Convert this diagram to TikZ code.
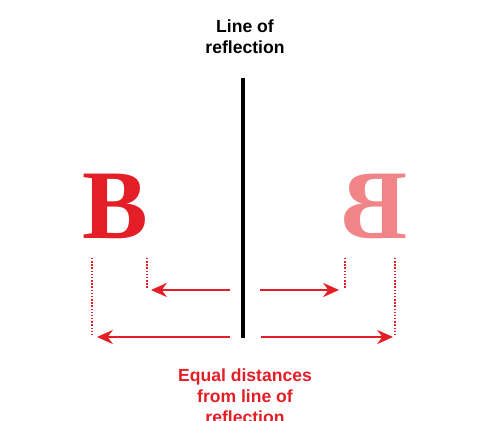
\documentclass[tikz,border=0pt]{standalone}
\usepackage{fontspec}
\setmainfont{Liberation Serif}
\setsansfont{Liberation Sans}
\usetikzlibrary{arrows.meta,positioning,calc}
\definecolor{mirrorred}{HTML}{E41E26}
\definecolor{imagepink}{HTML}{F08486}
\begin{document}
\begin{tikzpicture}[x=0.02cm, y=-0.02cm,
    label text/.style={font=\sffamily\bfseries\fontsize{10}{12}\selectfont, align=center},
    big letter/.style={font=\rmfamily\bfseries\fontsize{56}{56}\selectfont, inner sep=0pt},
    guide/.style={mirrorred, densely dotted, line width=0.8pt},
    dist arrow/.style={mirrorred, line width=1.3pt, -{Stealth[length=9pt, width=8pt]}}]
    \useasboundingbox (0,0) rectangle (483,421);
    \clip (0,0) rectangle (483,421);
    % line of reflection
    \coordinate (top) at (243,78);
    \coordinate (bottom) at (243,338);
    \draw[line width=2.6pt] (top) -- (bottom);
    \node[label text] (title) at (245,37) {Line of\\reflection};
    % letter and its image
    \node[big letter, text=mirrorred] (letter) at (115,206) {B};
    \node[big letter, text=imagepink, xscale=-1] (image) at (375,206) {B};
    % guide lines below the letters
    \coordinate (lo top) at (92,258);   \coordinate (lo bot) at (92,336);
    \coordinate (li top) at (147,258);  \coordinate (li bot) at (147,288);
    \coordinate (ri top) at (345,258);  \coordinate (ri bot) at (345,288);
    \coordinate (ro top) at (395,258);  \coordinate (ro bot) at (395,336);
    \draw[guide] (lo top) -- (lo bot);
    \draw[guide] (li top) -- (li bot);
    \draw[guide] (ri top) -- (ri bot);
    \draw[guide] (ro top) -- (ro bot);
    % distances
    \coordinate (sl start) at (230,290); \coordinate (sl end) at (151,290);
    \coordinate (sr start) at (260,290); \coordinate (sr end) at (339,290);
    \coordinate (ll start) at (230,337); \coordinate (ll end) at (97,337);
    \coordinate (lr start) at (261,337); \coordinate (lr end) at (393,337);
    \draw[dist arrow] (sl start) -- (sl end);
    \draw[dist arrow] (sr start) -- (sr end);
    \draw[dist arrow] (ll start) -- (ll end);
    \draw[dist arrow] (lr start) -- (lr end);
    \node[label text, text=mirrorred] (caption) at (245,396) {Equal distances\\from line of\\reflection};
\end{tikzpicture}
\end{document}
